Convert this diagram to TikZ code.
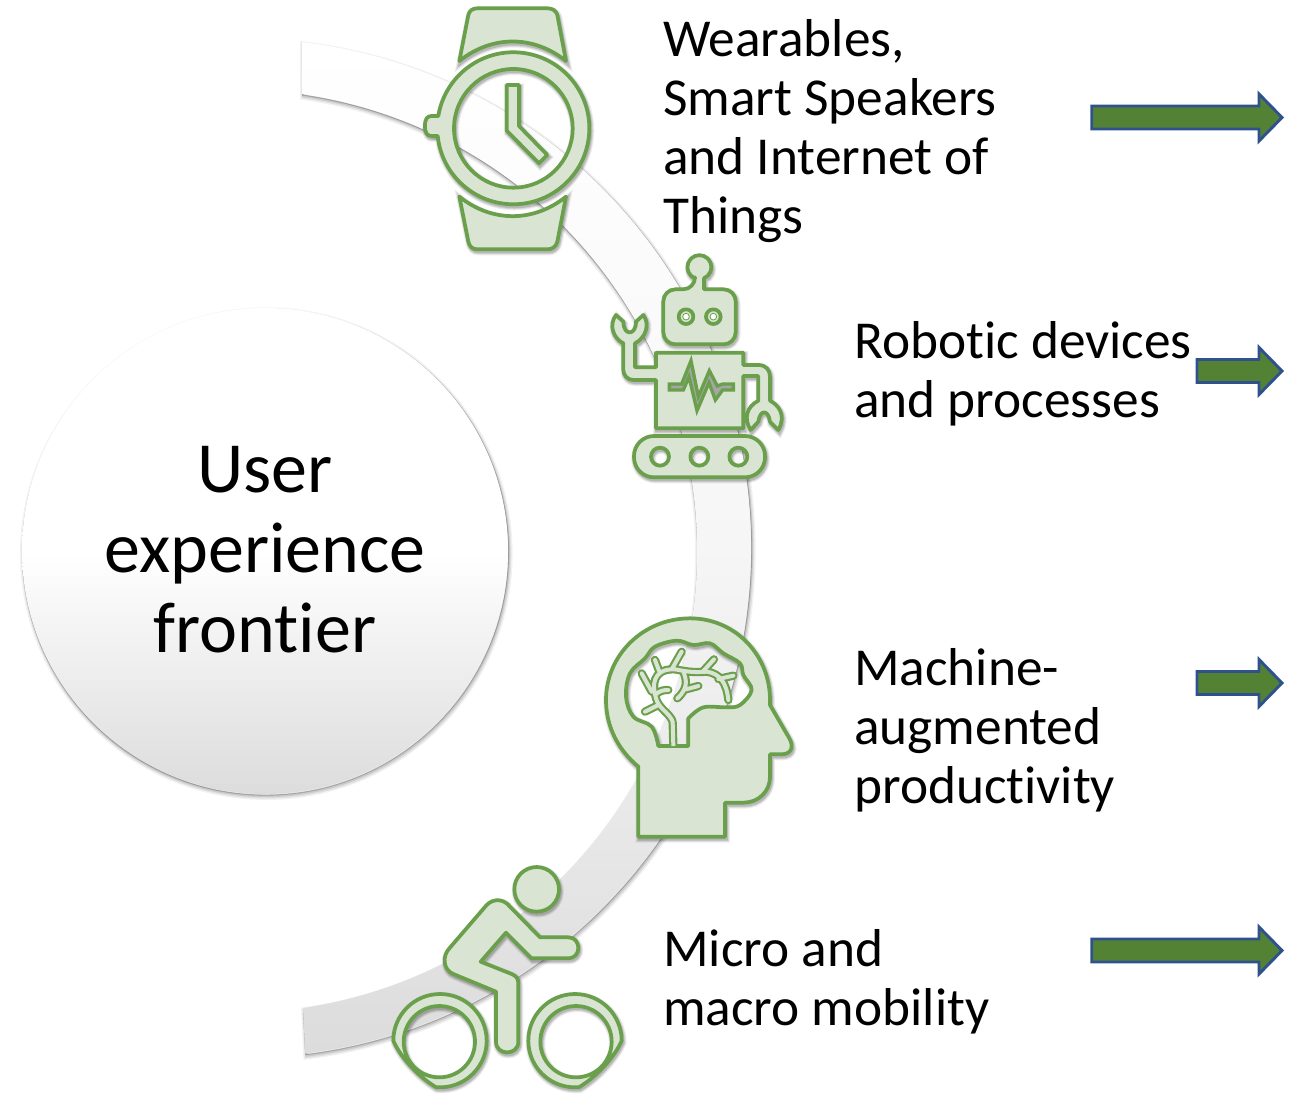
\documentclass[tikz,border=0pt]{standalone}
\usepackage{fontspec}
\setmainfont{Carlito}[Ligatures=NoCommon]
\definecolor{iconfill}{HTML}{D9E5D2}
\definecolor{iconline}{HTML}{6A9F4C}
\definecolor{arrowfill}{HTML}{548235}
\definecolor{arrowline}{HTML}{2F528F}
\definecolor{ringend}{HTML}{DCDCDC}
\definecolor{ringmid}{HTML}{F6F6F6}
\tikzset{
  softshadow/.style={
    preaction={draw=black,fill=none,draw opacity=.07,line width=#1+3pt,transform canvas={shift={(.8pt,-1.6pt)}}},
    preaction={draw=black,fill=none,draw opacity=.09,line width=#1+1.5pt,transform canvas={shift={(.8pt,-1.6pt)}}},
    preaction={draw=black,fill=none,draw opacity=.14,line width=#1,transform canvas={shift={(.8pt,-1.6pt)}}}},
  icon/.style={draw=iconline,fill=iconfill,line width=2.8pt,even odd rule,line join=round,softshadow=2.8pt},
  iconplain/.style={draw=iconline,fill=iconfill,line width=2.8pt,line join=round},
  zoomed/.style={x=.25pt,y=-.25pt},
  bigarrow/.style={draw=arrowline,fill=arrowfill,line width=2.2pt,line join=miter},
  itemtext/.style={anchor=west,align=left,inner sep=0pt,font=\fontsize{40pt}{44.2pt}\selectfont},
  hubtext/.style={align=center,inner sep=0pt,font=\fontsize{54pt}{60pt}\selectfont,text=black},
  softedge/.style={
    preaction={draw=black,draw opacity=.05,line width=5pt,transform canvas={shift={(1pt,-2pt)}}},
    preaction={draw=black,draw opacity=.07,line width=3pt,transform canvas={shift={(1pt,-2pt)}}},
    preaction={draw=black,draw opacity=.10,line width=1.5pt,transform canvas={shift={(.8pt,-1.6pt)}}},
    preaction={draw=black,draw opacity=.22,line width=.8pt,transform canvas={shift={(.4pt,-.8pt)}}}}
}
\newcommand{\flowarrow}[3]{% left x, centre y, neck x
  \draw[bigarrow] (#1,#2-11.5) -- (#3,#2-11.5) -- (#3,#2-23.5) -- (1282,#2) -- (#3,#2+23.5) -- (#3,#2+11.5) -- (#1,#2+11.5) -- cycle;}
\begin{document}
\begin{tikzpicture}[x=.75pt,y=-.75pt]
\useasboundingbox (0,0) rectangle (1294,1095);
\fill[white] (0,0) rectangle (1294,1095);

% sweeping band
\shade[softedge,top color=white,bottom color=ringend,middle color=ringmid]
  (302,42) arc[start angle=-83.17,end angle=82.8,radius=509.6]
  -- (303,1008) arc[start angle=81.55,end angle=-81.66,radius=462] -- cycle;

% hub
\shade[softedge,top color=white,bottom color=ringend,middle color=white]
  (265,551) circle[radius=243];
\node[hubtext] (hub) at (265,550) {User\\experience\\frontier};

% watch
\begin{scope}[shift={(400,0)},zoomed]
  \path[icon] (178,183) -- (205,45) .. controls (208,32) and (218,25) .. (232,25) -- (443,25)
    .. controls (457,25) and (468,32) .. (472,45) -- (498,183)
    .. controls (400,105) and (276,105) .. (178,183) -- cycle;
  \path[icon] (178,590) -- (205,725) .. controls (208,740) and (218,748) .. (232,748) -- (443,748)
    .. controls (457,748) and (468,740) .. (472,725) -- (498,590)
    .. controls (400,668) and (276,668) .. (178,590) -- cycle;
  \path[icon] (115,348) arc[start angle=189.3,end angle=534.2,radius=228]
    -- (95,408) .. controls (82,408) and (75,400) .. (75,378) .. controls (75,356) and (82,348) .. (95,348) -- cycle
    (340,385) circle[radius=178];
  \path[icon] (320,255) -- (357,255) -- (357,378) -- (442,465) -- (417,490) -- (320,392) -- cycle;
\end{scope}

% robot
\begin{scope}[shift={(590,250)},zoomed]
  \path[icon] (198,308) -- (460,308) -- (460,345) -- (505,345) .. controls (528,345) and (540,360) .. (540,380)
    -- (540,452) .. controls (565,465) and (590,495) .. (565,540) -- (540,515)
    .. controls (535,478) and (510,478) .. (505,515) -- (482,540)
    .. controls (460,505) and (470,470) .. (505,452) -- (505,378) -- (460,378) -- (460,535) -- (198,535) -- (198,390)
    -- (130,390) .. controls (112,390) and (100,375) .. (100,360) -- (100,280)
    .. controls (70,265) and (55,225) .. (78,195) -- (100,215)
    .. controls (100,258) and (138,258) .. (138,215) -- (160,195)
    .. controls (182,225) and (165,265) .. (135,280) -- (135,352) -- (198,352) -- cycle;
  \path[draw=iconline,fill=black!35,line width=2.5pt,line join=miter]
    (238,402) -- (275,402) -- (303,332) -- (325,440) -- (358,362) -- (382,408) -- (398,402) -- (430,402)
    -- (430,420) -- (398,420) -- (376,450) -- (357,398) -- (321,482) -- (297,380) -- (280,420) -- (238,420) -- cycle;
  \path[icon] (342,118) [rounded corners=9pt] -- (437,118) -- (437,283) -- (220,283) -- (220,118) -- (315,118)
    [sharp corners] -- (315,85) arc[start angle=111.5,end angle=428.5,radius=36] -- (342,85) -- cycle;
  \path[iconplain] (288,200) circle[radius=22];
  \path[iconplain] (370,200) circle[radius=22];
  \path[draw=iconline,fill=white,line width=.6pt] (288,200) circle[radius=10];
  \path[draw=iconline,fill=white,line width=.6pt] (370,200) circle[radius=10];
  \path[icon] [rounded corners=15pt] (132,558) rectangle (525,682) [sharp corners]
    (210,620) circle[radius=27] (328,620) circle[radius=27] (445,620) circle[radius=27];
\end{scope}

% head with brain
\begin{scope}[shift={(590,610)},zoomed]
  \path[icon] (145,470) .. controls (85,420) and (48,350) .. (48,270)
    .. controls (48,135) and (160,25) .. (300,25) .. controls (435,25) and (540,135) .. (540,270)
    -- (540,285) -- (598,385) .. controls (612,410) and (605,432) .. (575,433) -- (540,433) -- (540,500)
    .. controls (540,545) and (505,578) .. (460,578) -- (405,578) -- (405,680) -- (145,680) -- cycle
    (205,408) plot[smooth,tension=.6] coordinates {(205,408) (185,350) (130,320) (108,260) (120,190) (165,145) (195,110) (260,92) (310,105) (360,100) (400,130) (450,160) (460,195) (485,240) (450,285) (410,292) (340,292) (295,325)} -- (295,408) -- cycle;
  \foreach \lw/\col in {6.2pt/iconline,3pt/iconfill}{
    \draw[\col,line width=\lw,line cap=round,line join=round]
      (248,335) .. controls (240,310) and (205,295) .. (198,265)
      .. controls (185,225) and (190,180) .. (245,178) .. controls (265,176) and (285,190) .. (350,185)
      .. controls (390,190) and (410,220) .. (415,270)
      (210,190) -- (195,150)
      (245,178) -- (275,125)
      (340,183) -- (372,148)
      (385,207) -- (430,197)
      (185,245) -- (155,190)
      (205,285) -- (165,305)
      (195,255) .. controls (210,240) and (225,240) .. (235,240)
      (280,185) .. controls (290,210) and (295,235) .. (262,265)
      (288,238) -- (325,228);
    \draw[\col,line width=\lw,line cap=butt] (250,408) -- (248,335);
  }
\end{scope}

% cyclist
\begin{scope}[shift={(290,850)},zoomed]
  \path[icon] (740,118) circle[radius=67];
  \path[icon] (750,262) -- (835,262) .. controls (875,262) and (875,325) .. (835,325) -- (725,325) -- (648,248)
    -- (572,335) -- (665,372) .. controls (680,378) and (685,388) .. (685,400) -- (685,575)
    .. controls (685,618) and (618,618) .. (618,575) -- (618,425) -- (490,372)
    .. controls (460,360) and (455,320) .. (478,295) -- (590,165) .. controls (610,145) and (640,145) .. (660,170) -- cycle;
  \path[icon] (310,572) arc[start angle=180,end angle=455,radius=140]
    .. controls (385,680) and (330,620) .. (310,572) -- cycle (448,575) circle[radius=107];
  \path[icon] (995,572) arc[start angle=0,end angle=-275,radius=140]
    .. controls (920,680) and (975,620) .. (995,572) -- cycle (858,575) circle[radius=107];
\end{scope}

% labels
\node[itemtext] (wearables) at (663,131) {Wearables,\\Smart Speakers\\and Internet of\\Things};
\node[itemtext] (robotic) at (854,374) {Robotic devices\\and processes};
\node[itemtext] (machine) at (854,730) {Machine-\\augmented\\productivity};
\node[itemtext] (micro) at (663,982) {Micro and\\macro mobility};

% arrows
\flowarrow{1091.7}{117.5}{1259}
\flowarrow{1197}{371}{1259}
\flowarrow{1197}{683}{1259}
\flowarrow{1091.7}{950.5}{1259}
\end{tikzpicture}
\end{document}
